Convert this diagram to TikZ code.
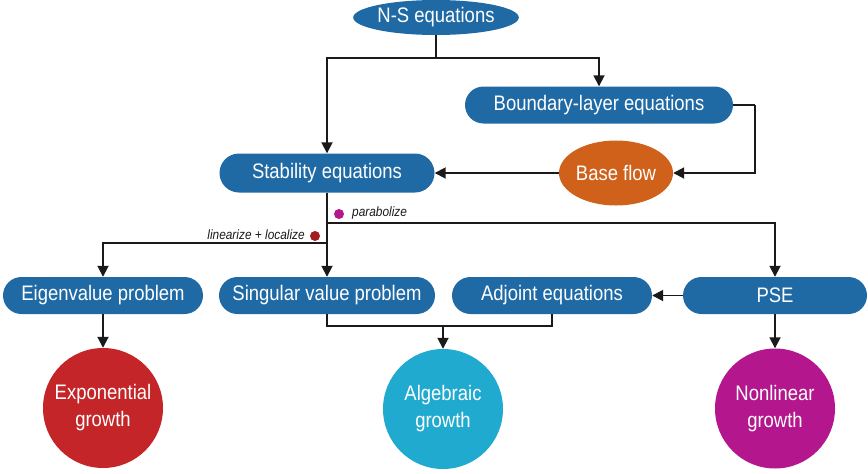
\documentclass[tikz,border=0pt]{standalone}
\usepackage{fontspec}
\setmainfont[FakeStretch=0.88]{Liberation Sans}
\usetikzlibrary{shapes.geometric,arrows.meta}
\definecolor{nblue}{HTML}{1F6AA5}
\definecolor{norange}{HTML}{CF611B}
\definecolor{nred}{HTML}{C42528}
\definecolor{ncyan}{HTML}{21AACF}
\definecolor{nmag}{HTML}{B4168E}
\definecolor{ndred}{HTML}{A11D1F}
\definecolor{nline}{HTML}{1A1A1A}
\tikzset{
  pill/.style={rectangle, rounded corners=18.5pt, fill=nblue, text=white, inner sep=0pt,
    minimum height=37pt, font=\fontsize{21}{25}\selectfont},
  oval/.style={ellipse, inner sep=0pt, text=white, font=\fontsize{21}{25}\selectfont},
  growth/.style={circle, inner sep=0pt, minimum size=120pt, text=white, align=center,
    font=\fontsize{21}{27}\selectfont},
  conn/.style={draw=nline, line width=1.8pt},
  arr/.style={conn, -{Triangle[length=11pt,width=11pt]}},
  lab/.style={inner sep=0pt, font=\fontsize{13.5}{16}\selectfont\itshape, text=nline},
  dotnode/.style={circle, inner sep=0pt, minimum size=10pt}
}
\begin{document}
\begin{tikzpicture}[x=1pt,y=-1pt]
\useasboundingbox (0,0) rectangle (868,474);
% nodes
\node[oval, fill=nblue, minimum width=160pt, minimum height=35pt] (ns) at (436,17.5) {N-S equations};
\node[pill, minimum width=268pt] (bl) at (599,105) {Boundary-layer equations};
\node[pill, minimum width=215pt, minimum height=39pt, rounded corners=19.5pt] (stab) at (327,173) {Stability equations};
\node[oval, fill=norange, minimum width=114pt, minimum height=65pt] (bf) at (616,173) {Base flow};
\node[pill, minimum width=200pt] (eig) at (103,295.5) {Eigenvalue problem};
\node[pill, minimum width=216pt] (sing) at (327,295.5) {Singular value problem};
\node[pill, minimum width=200pt] (adj) at (552,295.5) {Adjoint equations};
\node[pill, minimum width=184pt] (pse) at (775,295.5) {PSE};
\node[growth, fill=nred] (exp) at (103,408) {Exponential\\growth};
\node[growth, fill=ncyan] (alg) at (443,409) {Algebraic\\growth};
\node[growth, fill=nmag] (nl) at (775,408.5) {Nonlinear\\growth};
% labels
\node[dotnode, fill=nmag] (pdot) at (339,214) {};
\node[lab, anchor=west] (plab) at (352,213) {parabolize};
\node[dotnode, fill=ndred] (ldot) at (315,236) {};
\node[lab, anchor=east] (llab) at (305,235) {linearize + localize};
% junctions
\coordinate (j1) at (436,58);
\coordinate (j2) at (755,105);
\coordinate (b1) at (327,223);
\coordinate (b2) at (327,243);
\coordinate (m) at (443,326);
% connectors
\draw[conn] (ns.south) -- (j1);
\draw[arr] (j1) -| (stab.north);
\draw[arr] (j1) -| (bl.north);
\draw[conn] (bl.east) -- (j2);
\draw[arr] (j2) |- (bf.east);
\draw[arr] (bf.west) -- (stab.east);
\draw[arr] (stab.south) -- (sing.north);
\draw[arr] (b1) -| (pse.north);
\draw[arr] (b2) -| (eig.north);
\draw[arr] (pse.west) -- (adj.east);
\draw[arr] (eig.south) -- (exp.north);
\draw[arr] (pse.south) -- (nl.north);
\draw[conn] (sing.south) |- (m) -| (adj.south);
\draw[arr] (m) -- (alg.north);
\end{tikzpicture}
\end{document}
